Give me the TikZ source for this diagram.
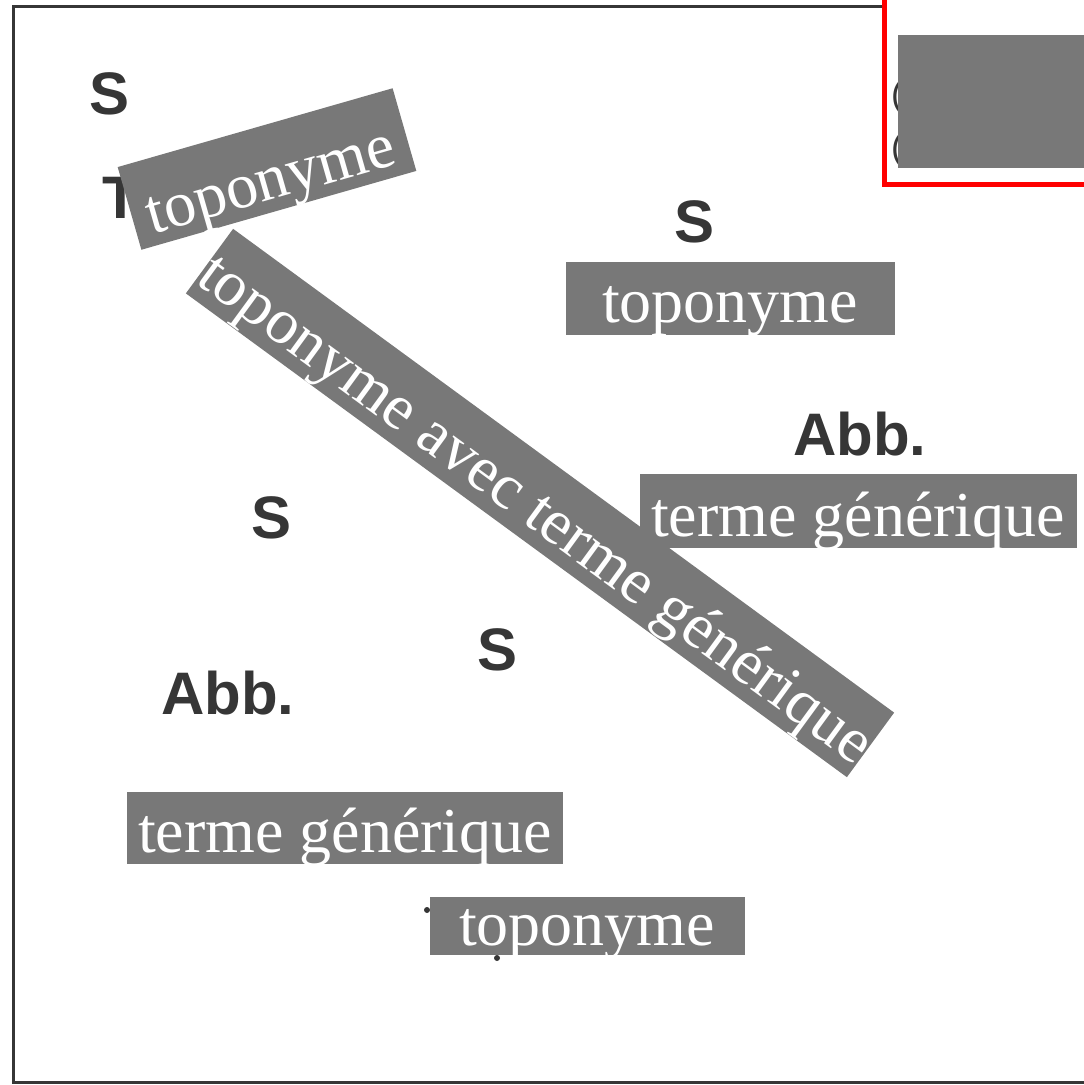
\documentclass[tikz,border=0pt]{standalone}
\usepackage{fontspec}
\setmainfont{Liberation Serif}
\newfontfamily\cartefont{Liberation Sans}
\definecolor{cache}{HTML}{787878}
\definecolor{encre}{HTML}{363636}

\begin{document}
\begin{tikzpicture}[x=1pt, y=-1pt,
  etiquette/.style={fill=cache, text=white, inner sep=0pt, text depth=12,
    font=\fontsize{64}{64}\selectfont},
  lettre/.style={text=encre, inner sep=0pt,
    font=\cartefont\bfseries\fontsize{60}{60}\selectfont}]
  \useasboundingbox (0,0) rectangle (1084,1085);
  \clip (0,0) rectangle (1084,1085);
  % scanned map underneath
  \draw[encre, line width=3pt] (882,6) -- (13,6) -- (13,1082) -- (1090,1082);
  \node[lettre] (s1) at (110,94) {S};
  \node[lettre] (t1) at (121,198) {T};
  \node[lettre] (s2) at (695,222) {S};
  \node[lettre] (abb1) at (860,434) {Abb.};
  \node[lettre] (s3) at (272,518) {S};
  \node[lettre] (s4) at (498,650) {S};
  \node[lettre] (abb2) at (228,693) {Abb.};
  \node[lettre, font=\cartefont\fontsize{36}{36}\selectfont] (p1) at (897,97) {(};
  \node[lettre, font=\cartefont\fontsize{36}{36}\selectfont] (p2) at (897,150) {(};
  \fill[encre] (427,910) circle (3) (497,958) circle (3) (612,952) circle (2);
  % masked labels
  \draw[red, line width=5pt] (884,-10) rectangle (1100,184);
  \fill[cache] (898,35) rectangle (1090,168);
  \node[etiquette, rotate=16, minimum width=286, text height=74]
    (topo1) at (267,169) {toponyme};
  \node[etiquette, minimum width=329, text height=61]
    (topo2) at (730,298) {toponyme};
  \node[etiquette, minimum width=437, text height=62]
    (gen1) at (858,511) {terme générique};
  \node[etiquette, rotate=-36.2, minimum width=815, text height=66, text depth=14]
    (long) at (540,503) {toponyme avec terme générique};
  \node[etiquette, minimum width=436, text height=60]
    (gen2) at (345,828) {terme générique};
  \node[etiquette, minimum width=315, text height=48, text depth=10]
    (topo3) at (587,926) {toponyme};
\end{tikzpicture}
\end{document}
